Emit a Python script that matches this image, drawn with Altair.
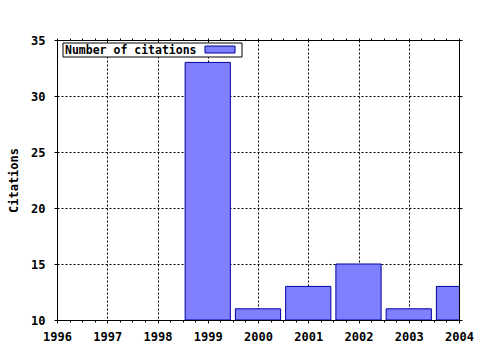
import altair as alt
import pandas as pd

years = [1999, 2000, 2001, 2002, 2003, 2004]
citations = [33, 11, 13, 15, 11, 13]
x_ticks = [1996, 1997, 1998, 1999, 2000, 2001, 2002, 2003, 2004]
x_minor = [1996 + i * 0.25 for i in range(33)]
y_ticks = [10, 15, 20, 25, 30, 35]
legend_label = "Number of citations"
y_title = "Citations"

FONT = "DejaVu Sans Mono"
W, H = 402, 280

df = pd.DataFrame({"year": years, "citations": citations})
xs = alt.Scale(domain=[1996, 2004], nice=False, zero=False)
ys = alt.Scale(domain=[10, 35], nice=False, zero=False)

bars = alt.Chart(df).transform_calculate(
    x0="datum.year - 0.45", x1="datum.year + 0.45"
).mark_rect(fill="#8080ff", stroke="#0000a0", strokeWidth=1, clip=True).encode(
    x=alt.X("x0:Q", scale=xs, axis=alt.Axis(
        orient="bottom", values=x_ticks, title=None, grid=True, format="d",
        tickSize=3, labelPadding=8, labelFont=FONT, labelFontWeight="bold",
        labelFontSize=12, labelColor="black", tickColor="black", domain=False,
        gridDash=[2, 2], gridColor="black", gridOpacity=1, labelFlush=False)),
    x2="x1:Q",
    y=alt.Y("citations:Q", scale=ys, axis=alt.Axis(
        orient="left", values=y_ticks, title=y_title, grid=True,
        tickSize=3, labelPadding=9, labelFont=FONT, labelFontWeight="bold",
        labelFontSize=12, labelColor="black", tickColor="black", domain=False,
        titleFont=FONT, titleFontWeight="bold", titleFontSize=12,
        titleColor="black", titlePadding=10,
        gridDash=[2, 2], gridColor="black", gridOpacity=1)),
    y2=alt.datum(10),
)

top_axis = alt.Chart(pd.DataFrame({"v": [1996]})).mark_point(opacity=0).encode(
    x=alt.X("v:Q", scale=xs, axis=alt.Axis(
        orient="top", values=x_minor, labels=False, title=None, grid=False,
        tickSize=2, tickColor="black", domain=False)),
)
bottom_minor = alt.Chart(pd.DataFrame({"w": [1996]})).mark_point(opacity=0).encode(
    x=alt.X("w:Q", scale=xs, axis=alt.Axis(
        orient="bottom", values=x_minor, labels=False, title=None, grid=False,
        tickSize=2, tickColor="black", domain=False)),
)
right_axis = alt.Chart(pd.DataFrame({"v": [10]})).mark_point(opacity=0).encode(
    y=alt.Y("v:Q", scale=ys, axis=alt.Axis(
        orient="right", values=y_ticks, labels=False, title=None, grid=False,
        tickSize=3, tickColor="black", domain=False)),
)

box_df = pd.DataFrame({"label": [legend_label]})
legend_box = alt.Chart(box_df).mark_rect(fill="white", stroke="black", strokeWidth=1).encode(
    x=alt.value(6), x2=alt.value(185), y=alt.value(3), y2=alt.value(17))
legend_swatch = alt.Chart(box_df).mark_rect(fill="#8080ff", stroke="#0000a0", strokeWidth=1).encode(
    x=alt.value(148), x2=alt.value(178), y=alt.value(6), y2=alt.value(13))
legend_text = alt.Chart(box_df).mark_text(
    align="left", baseline="middle", font=FONT, fontWeight="bold", fontSize=11.5, color="black"
).encode(x=alt.value(8), y=alt.value(10.5), text="label:N")

chart = alt.layer(
    bars, top_axis, bottom_minor, right_axis, legend_box, legend_swatch, legend_text
).properties(
    width=W, height=H,
    autosize=alt.AutoSizeParams(type="none"),
    padding={"left": 57, "top": 40, "right": 21, "bottom": 30},
    background="white",
).configure_view(stroke="black", strokeWidth=1)

chart.save("out.html", embed_options={"renderer": "svg", "actions": False})
